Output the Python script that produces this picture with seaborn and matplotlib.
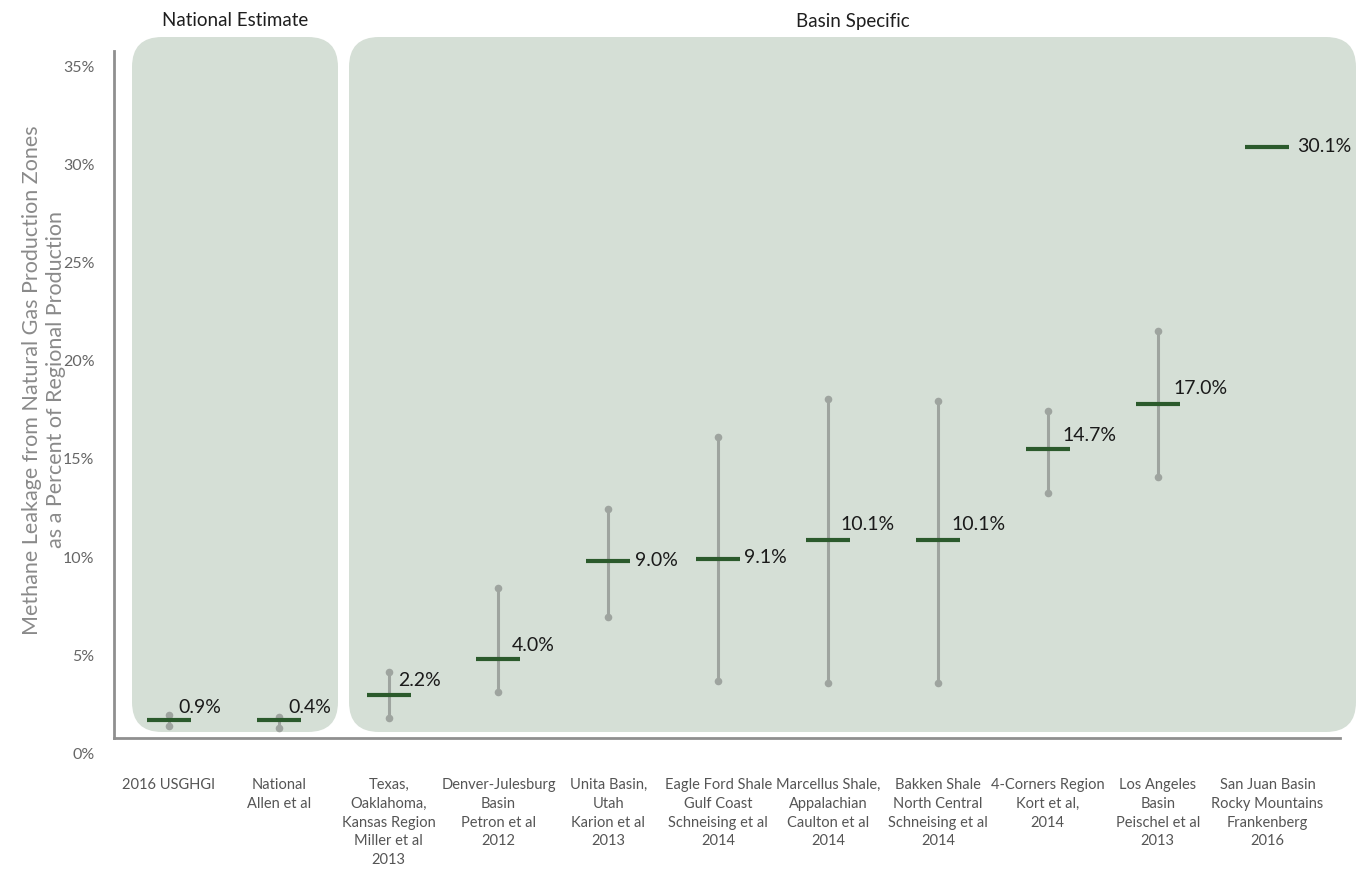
import matplotlib
matplotlib.use("Agg")
import matplotlib.pyplot as plt
import matplotlib.transforms as mtransforms
from matplotlib.patches import FancyBboxPatch
import numpy as np
import pandas as pd
import seaborn as sns

# data (percent of regional production)
categories = [
    "2016 USGHGI",
    "National\nAllen et al",
    "Texas,\nOaklahoma,\nKansas Region\nMiller et al\n2013",
    "Denver-Julesburg\nBasin\nPetron et al\n2012",
    "Unita Basin,\nUtah\nKarion et al\n2013",
    "Eagle Ford Shale\nGulf Coast\nSchneising et al\n2014",
    "Marcellus Shale,\nAppalachian\nCaulton et al\n2014",
    "Bakken Shale\nNorth Central\nSchneising et al\n2014",
    "4-Corners Region\nKort et al,\n2014",
    "Los Angeles\nBasin\nPeischel et al\n2013",
    "San Juan Basin\nRocky Mountains\nFrankenberg\n2016",
]
central = [0.9, 0.9, 2.2, 4.0, 9.0, 9.1, 10.1, 10.1, 14.7, 17.0, 30.1]
value_labels = ["0.9%", "0.4%", "2.2%", "4.0%", "9.0%", "9.1%", "10.1%",
                "10.1%", "14.7%", "17.0%", "30.1%"]
low = [0.63, 0.52, 1.02, 2.33, 6.18, 2.9, 2.78, 2.78, 12.46, 13.29, np.nan]
high = [1.16, 1.08, 3.35, 7.64, 11.66, 15.31, 17.25, 17.16, 16.67, 20.71, np.nan]
groups = ["National Estimate", "Basin Specific"]
y_ticks = [0, 5, 10, 15, 20, 25, 30, 35]

# label placement (pixels relative to each mark)
label_dx = [9, 10, 9, 13, 27, 26, 12, 14, 15, 16, 30]
label_dy = [13, 13, 14, 14, 1, 2, 15, 15, 14, 16, 0]

green = "#2b5a2c"
grey_bar = "#9ea49f"
panel_col = "#d5dfd6"
axis_col = "#8f8f8f"

sns.set_style("white")
plt.rcParams['font.family'] = ['Lato', 'DejaVu Sans']

df = pd.DataFrame({"cat": categories, "central": central,
                   "low": low, "high": high, "lab": value_labels})
df["pos"] = np.arange(len(df))

W, H = 1357, 869
fig = plt.figure(figsize=(W / 100, H / 100), dpi=100)

# background panels, in pixel coordinates
bg = fig.add_axes([0, 0, 1, 1])
bg.set_xlim(0, W)
bg.set_ylim(H, 0)
bg.axis("off")
panel_x = [(132, 338), (349, 1356)]
for (x0, x1), name in zip(panel_x, groups):
    bg.add_patch(FancyBboxPatch((x0, 37), x1 - x0, 732 - 37,
                                boxstyle="round,pad=0,rounding_size=30",
                                fc=panel_col, ec="none"))
    bg.text((x0 + x1) / 2, 21, name, ha="center", va="center",
            fontsize=13.5, color="#1e1e1e")

ax = fig.add_axes([114 / W, 1 - 738 / H, (1340 - 114) / W, (738 - 50.7) / H])
ax.patch.set_visible(False)
ax.set_zorder(2)

err = df.dropna(subset=["low"])
ax.vlines(err["pos"], err["low"], err["high"], color=grey_bar, lw=2.2, zorder=2)
caps = pd.concat([err[["pos", "low"]].rename(columns={"low": "y"}),
                  err[["pos", "high"]].rename(columns={"high": "y"})])
sns.scatterplot(data=caps, x="pos", y="y", color=grey_bar, s=30,
                linewidth=0, ax=ax, zorder=3, legend=False)
ax.plot(df["pos"], df["central"], linestyle="none", marker="_",
        markersize=31.7, markeredgewidth=3, color=green, zorder=4)

for i, r in df.iterrows():
    ax.annotate(r["lab"], (r["pos"], r["central"]),
                xytext=(label_dx[i], label_dy[i]), textcoords="offset pixels",
                ha="left", va="center", fontsize=14, color="#1a1a1a")

ax.set_xlim(-0.5, 10.66)
ax.set_ylim(0, 35)
ax.set_xlabel("")
ax.set_ylabel("")
ax.set_xticks(df["pos"])
ax.set_xticklabels(categories, fontsize=10.5, color="#555555", linespacing=1.42)
ax.tick_params(axis="x", length=0, pad=29)
ax.set_yticks(y_ticks)
ax.set_yticklabels([f"{v}%" for v in y_ticks])
ax.tick_params(axis="y", direction="in", length=11.5, width=1.5,
               color=axis_col, pad=14, labelsize=11.5, labelcolor="#666666")
shift = mtransforms.ScaledTranslation(0, -0.155, fig.dpi_scale_trans)
for lab in ax.get_yticklabels():
    lab.set_transform(lab.get_transform() + shift)

for s in ["top", "right"]:
    ax.spines[s].set_visible(False)
for s in ["left", "bottom"]:
    ax.spines[s].set_color(axis_col)
    ax.spines[s].set_linewidth(2)

fig.text(44 / W, 1 - 380 / H,
         "Methane Leakage from Natural Gas Production Zones\nas a Percent of Regional Production",
         rotation=90, ha="center", va="center", multialignment="center",
         fontsize=15.5, color="#8a8a8a", linespacing=1.2)

fig.savefig("out.png", dpi=100)
